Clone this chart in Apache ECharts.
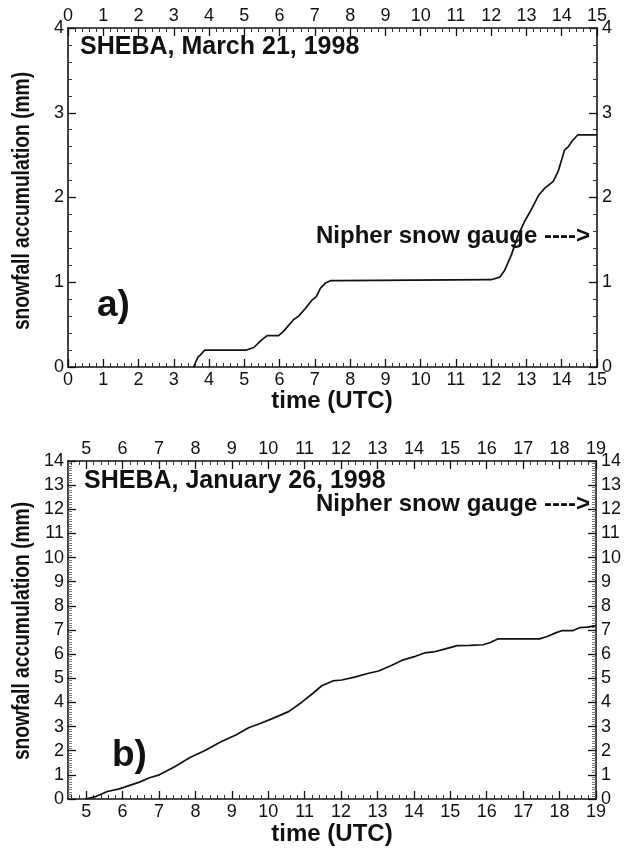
<!DOCTYPE html>
<html>
<head>
<meta charset="utf-8">
<script src="https://cdn.jsdelivr.net/npm/echarts@6/dist/echarts.min.js"></script>
<style>
html,body{margin:0;padding:0;background:#fff;}
#chart{width:624px;height:853px;}
</style>
</head>
<body>
<div id="chart"></div>
<script>
// ---- Panel a: SHEBA, March 21, 1998 ----
var aTime = [3.56, 3.69, 3.75, 3.88, 5.06, 5.27, 5.49, 5.65, 5.97, 6.11, 6.40, 6.54, 6.73, 6.92, 7.04, 7.16, 7.30, 7.46, 7.63, 12.0, 12.24, 12.38, 12.57, 12.76, 12.95, 13.14, 13.35, 13.52, 13.76, 13.90, 14.08, 14.19, 14.30, 14.46, 15.0];
var aSnow = [0, 0.12, 0.14, 0.20, 0.20, 0.23, 0.32, 0.37, 0.37, 0.42, 0.56, 0.60, 0.69, 0.79, 0.83, 0.93, 0.99, 1.02, 1.02, 1.03, 1.06, 1.14, 1.32, 1.55, 1.72, 1.86, 2.03, 2.11, 2.19, 2.31, 2.56, 2.60, 2.67, 2.74, 2.74];

// ---- Panel b: SHEBA, January 26, 1998 ----
var bTime = [4.98, 5.26, 5.58, 5.91, 6.46, 6.74, 7.01, 7.43, 7.85, 8.25, 8.70, 9.11, 9.46, 9.76, 10.11, 10.57, 10.92, 11.22, 11.47, 11.77, 12.02, 12.37, 12.73, 13.03, 13.38, 13.68, 14.04, 14.29, 14.54, 14.84, 15.19, 15.54, 15.90, 16.10, 16.30, 16.65, 17.45, 17.66, 17.91, 18.06, 18.36, 18.56, 18.76, 19.0];
var bSnow = [0, 0.10, 0.31, 0.42, 0.70, 0.88, 1.0, 1.34, 1.72, 2.0, 2.37, 2.65, 2.95, 3.12, 3.33, 3.63, 4.01, 4.37, 4.69, 4.89, 4.93, 5.05, 5.20, 5.30, 5.53, 5.75, 5.91, 6.05, 6.09, 6.21, 6.35, 6.36, 6.39, 6.48, 6.63, 6.63, 6.63, 6.73, 6.89, 6.97, 6.97, 7.10, 7.12, 7.18];

// tick labels
var bXTicks = [5, 6, 7, 8, 9, 10, 11, 12, 13, 14, 15, 16, 17, 18, 19];
var bXMinor = [];
for (var h = 4; h < 19; h++) { for (var k = 1; k < 5; k++) { var v = +(h + k * 0.2).toFixed(1); if (v > 4.5) bXMinor.push(v); } }

var FONT = 'Liberation Sans';
var lineCol = '#111';
var labelStyle = { color: '#111', fontFamily: FONT, fontSize: 18 };

function valueAxis(o) {
  var base = {
    type: 'value',
    axisLine: { show: true, onZero: false, lineStyle: { color: lineCol, width: 1.6 } },
    axisTick: { show: true, inside: true, length: 8, lineStyle: { color: lineCol, width: 1.3 } },
    minorTick: { show: true, splitNumber: 5, length: 4, lineStyle: { color: '#333', width: 1 } },
    splitLine: { show: false },
    axisLabel: Object.assign({ show: true, margin: 4 }, labelStyle)
  };
  for (var key in o) {
    if (typeof o[key] === 'object' && base[key] && !Array.isArray(o[key])) base[key] = Object.assign({}, base[key], o[key]);
    else base[key] = o[key];
  }
  return base;
}

var option = {
  backgroundColor: '#ffffff',
  animation: false,
  grid: [
    { left: 68, right: 27, top: 28, height: 339 },
    { left: 68, right: 27, top: 461, height: 338 }
  ],
  xAxis: [
    valueAxis({ gridIndex: 0, position: 'bottom', min: 0, max: 15, interval: 1, axisLabel: { margin: 4 } }),
    valueAxis({ gridIndex: 0, position: 'top', min: 0, max: 15, interval: 1, axisLabel: { margin: 3 } }),
    valueAxis({ gridIndex: 1, position: 'bottom', min: 4.5, max: 19, minorTick: { show: false },
      axisTick: { customValues: bXTicks }, axisLabel: { customValues: bXTicks, margin: 4 } }),
    valueAxis({ gridIndex: 1, position: 'bottom', min: 4.5, max: 19, minorTick: { show: false }, axisLine: { show: false },
      axisTick: { customValues: bXMinor, length: 4, lineStyle: { color: '#333', width: 1 } }, axisLabel: { show: false } }),
    valueAxis({ gridIndex: 1, position: 'top', min: 4.5, max: 19, minorTick: { show: false },
      axisTick: { customValues: bXTicks }, axisLabel: { customValues: bXTicks, margin: 3 } }),
    valueAxis({ gridIndex: 1, position: 'top', min: 4.5, max: 19, minorTick: { show: false }, axisLine: { show: false },
      axisTick: { customValues: bXMinor, length: 4, lineStyle: { color: '#333', width: 1 } }, axisLabel: { show: false } })
  ],
  yAxis: [
    valueAxis({ gridIndex: 0, position: 'left', min: 0, max: 4, interval: 1 }),
    valueAxis({ gridIndex: 0, position: 'right', min: 0, max: 4, interval: 1, axisLabel: { margin: 5 } }),
    valueAxis({ gridIndex: 1, position: 'left', min: 0, max: 14, interval: 1, minorTick: { splitNumber: 10, length: 4, lineStyle: { color: '#777', width: 1 } } }),
    valueAxis({ gridIndex: 1, position: 'right', min: 0, max: 14, interval: 1, axisLabel: { margin: 5 }, minorTick: { splitNumber: 10, length: 4, lineStyle: { color: '#777', width: 1 } } })
  ],
  series: [
    { type: 'line', xAxisIndex: 0, yAxisIndex: 0, showSymbol: false, smooth: false,
      lineStyle: { color: '#111', width: 1.7 }, data: aTime.map(function (t, i) { return [t, aSnow[i]]; }) },
    { type: 'line', xAxisIndex: 2, yAxisIndex: 2, showSymbol: false, smooth: false,
      lineStyle: { color: '#111', width: 1.7 }, data: bTime.map(function (t, i) { return [t, bSnow[i]]; }) }
  ],
  graphic: [
    { type: 'text', left: 80, top: 35, style: { text: 'SHEBA, March 21, 1998', font: 'bold 25px ' + FONT, fill: '#111' } },
    { type: 'text', x: 590, y: 236, style: { text: 'Nipher snow gauge ---->', font: 'bold 24px ' + FONT, fill: '#111', align: 'right', verticalAlign: 'middle' } },
    { type: 'text', x: 97, y: 306, style: { text: 'a)', font: 'bold 37px ' + FONT, fill: '#111', verticalAlign: 'middle' } },
    { type: 'text', x: 22, y: 201, rotation: Math.PI / 2, scaleX: 0.8, style: { text: 'snowfall accumulation (mm)', font: 'bold 24px ' + FONT, fill: '#111', align: 'center', verticalAlign: 'middle' } },
    { type: 'text', x: 332, y: 401, style: { text: 'time (UTC)', font: 'bold 24px ' + FONT, fill: '#111', align: 'center', verticalAlign: 'middle' } },

    { type: 'text', x: 84, y: 481, style: { text: 'SHEBA, January 26, 1998', font: 'bold 25px ' + FONT, fill: '#111', verticalAlign: 'middle' } },
    { type: 'text', x: 590, y: 504, style: { text: 'Nipher snow gauge ---->', font: 'bold 24px ' + FONT, fill: '#111', align: 'right', verticalAlign: 'middle' } },
    { type: 'text', x: 112, y: 756, style: { text: 'b)', font: 'bold 37px ' + FONT, fill: '#111', verticalAlign: 'middle' } },
    { type: 'text', x: 22, y: 631, rotation: Math.PI / 2, scaleX: 0.8, style: { text: 'snowfall accumulation (mm)', font: 'bold 24px ' + FONT, fill: '#111', align: 'center', verticalAlign: 'middle' } },
    { type: 'text', x: 332, y: 834, style: { text: 'time (UTC)', font: 'bold 24px ' + FONT, fill: '#111', align: 'center', verticalAlign: 'middle' } }
  ]
};

var chart = echarts.init(document.getElementById('chart'), null, { renderer: 'canvas' });
chart.setOption(option);
</script>
</body>
</html>
